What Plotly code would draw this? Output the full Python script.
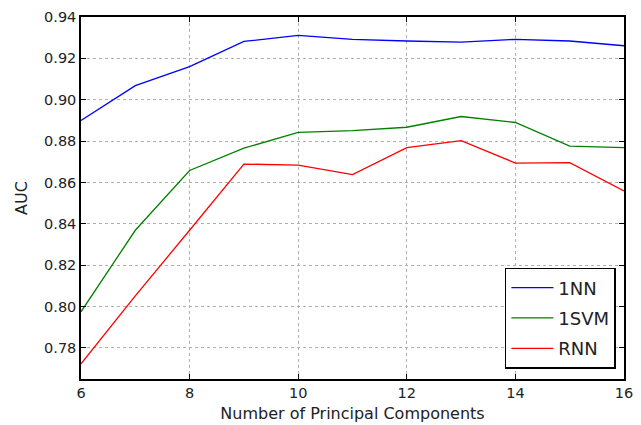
import plotly.graph_objects as go

x = [6, 7, 8, 9, 10, 11, 12, 13, 14, 15, 16]
nn1 = [0.890, 0.9068, 0.916, 0.9282, 0.9311, 0.9292, 0.9284, 0.9279, 0.9292, 0.9284, 0.9261]
svm1 = [0.7975, 0.8369, 0.8658, 0.8766, 0.8842, 0.8851, 0.8867, 0.8919, 0.8890, 0.8776, 0.8769]
rnn = [0.7723, 0.8052, 0.8369, 0.8689, 0.8684, 0.8638, 0.8768, 0.8802, 0.8694, 0.8696, 0.8559]
xticks = [6, 8, 10, 12, 14, 16]
yticks = [0.78, 0.80, 0.82, 0.84, 0.86, 0.88, 0.90, 0.92, 0.94]

fig = go.Figure()
for name, ys, c in [("1NN", nn1, "#0000ff"), ("1SVM", svm1, "#008000"), ("RNN", rnn, "#ff0000")]:
    fig.add_trace(go.Scatter(x=x, y=ys, mode="lines", name=name, legendgroup=name,
                             line=dict(color=c, width=1.3)))

axis_common = dict(
    showline=True, linecolor="black", linewidth=1.5, mirror="ticks",
    ticks="inside", ticklen=5, tickcolor="black", automargin=False,
    showgrid=True, gridcolor="#b0b0b0", griddash="dot", gridwidth=1,
    zeroline=False, tickfont=dict(size=14.5, color="#222"),
)
fig.update_xaxes(range=[6, 16], tickvals=xticks, ticktext=[str(v) for v in xticks],
                 title=dict(text="Number of Principal Components", font=dict(size=16, color="#222"), standoff=8),
                 **axis_common)
fig.update_yaxes(range=[0.765, 0.94], tickvals=yticks, ticktext=[f"{v:.2f}" for v in yticks],
                 title=dict(text="AUC", font=dict(size=16, color="#222"), standoff=12),
                 **axis_common)
fig.update_layout(
    width=641, height=425,
    margin=dict(l=81, r=17, t=17, b=46, autoexpand=False),
    paper_bgcolor="white", plot_bgcolor="white",
    font=dict(family="DejaVu Sans", size=14, color="#222"),
    showlegend=True,
    legend=dict(x=0.985, y=0.028, xanchor="right", yanchor="bottom",
                bordercolor="black", borderwidth=1.5, bgcolor="white",
                font=dict(size=18), tracegroupgap=4, itemwidth=42),
)
fig.write_html("out.html", config={"displayModeBar": False},
               post_script="document.body.style.margin='0';document.body.style.overflow='hidden';")
